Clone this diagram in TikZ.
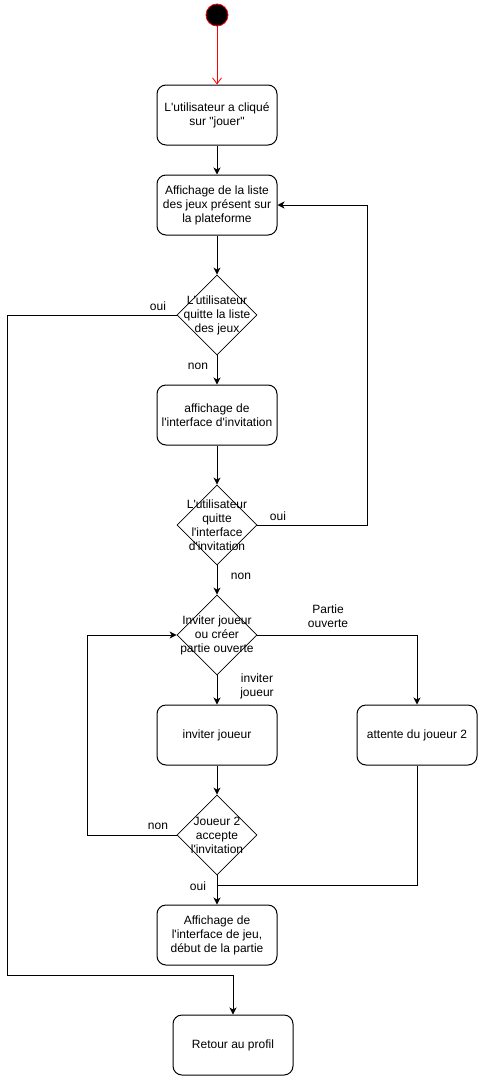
\documentclass[tikz,border=0pt]{standalone}
\usepackage{fontspec}
\setmainfont{Liberation Sans}[Ligatures=TeXOff]
\usetikzlibrary{arrows.meta,shapes.geometric}
\begin{document}
\begin{tikzpicture}[x=1pt,y=-1pt,
  every node/.style={font=\fontsize{12}{14}\selectfont},
  box/.style={draw,rounded corners=9pt,minimum width=120pt,minimum height=60pt,inner sep=0pt,align=center,line width=1pt},
  dia/.style={draw,diamond,minimum width=80pt,minimum height=80pt,inner sep=0pt,line width=0.8pt},
  txt/.style={align=center,inner sep=0pt},
  lbl/.style={align=center,inner sep=0pt},
  conn/.style={line width=1pt,-{Stealth[length=7pt,width=7pt,inset=2pt]}},
  plain/.style={line width=1pt}]
\useasboundingbox (0,0) rectangle (478,1076);
% start
\node[circle,fill=black,draw=red,line width=0.8pt,minimum size=22pt,inner sep=0pt] (s) at (217,15) {};
\node[box] (b1) at (217,115) {L'utilisateur a cliqué\\sur "jouer"};
\node[box] (b2) at (217,205) {Affichage de la liste\\des jeux présent sur\\la plateforme};
\node[dia] (d1) at (217,315) {};
\node[txt] (t1) at (217,315) {L'utilisateur\\quitte la liste\\des jeux};
\node[box] (b3) at (217,415) {affichage de\\l'interface d'invitation};
\node[dia] (d2) at (217,525) {};
\node[txt] (t2) at (217,525) {L'utilisateur\\quitte\\l'interface\\d'invitation};
\node[dia] (d3) at (217,635) {};
\node[txt] (t3) at (217,635) {Inviter joueur\\ou créer\\partie ouverte};
\node[box] (b4) at (217,735) {inviter joueur};
\node[box] (b5) at (417,735) {attente du joueur 2};
\node[dia] (d4) at (217,835) {};
\node[txt] (t4) at (217,835) {Joueur 2\\accepte\\l'invitation};
\node[box] (b6) at (217,935) {Affichage de\\l'interface de jeu,\\début de la partie};
\node[box] (b7) at (233,1045) {Retour au profil};
% coordinates
\coordinate (c1a) at (7,315);
\coordinate (c1b) at (7,975);
\coordinate (c1c) at (233,975);
\coordinate (c2a) at (367,525);
\coordinate (c2b) at (367,205);
\coordinate (c3a) at (417,635);
\coordinate (c4a) at (87,835);
\coordinate (c4b) at (87,635);
\coordinate (c5a) at (417,885);
\coordinate (c5b) at (217,885);
% connectors
\draw[red,line width=0.8pt,-{Straight Barb[length=6pt,width=9pt]}] (s.south) -- (b1.north);
\draw[conn] (b1) -- (b2);
\draw[conn] (b2) -- (d1);
\draw[conn] (d1) -- (b3);
\draw[conn] (b3) -- (d2);
\draw[conn] (d2) -- (d3);
\draw[conn] (d3) -- (b4);
\draw[conn] (b4) -- (d4);
\draw[conn] (d4) -- (b6);
\draw[conn] (d1.west) -- (c1a) -- (c1b) -- (c1c) -- (b7.north);
\draw[conn] (d2.east) -- (c2a) -- (c2b) -- (b2.east);
\draw[conn] (d3.east) -- (c3a) -- (b5.north);
\draw[conn] (d4.west) -- (c4a) -- (c4b) -- (d3.west);
\draw[plain] (b5.south) -- (c5a) -- (c5b);
% labels
\node[lbl] (l1) at (158,306) {oui};
\node[lbl] (l2) at (198,366) {non};
\node[lbl] (l3) at (278,516) {oui};
\node[lbl] (l4) at (241,576) {non};
\node[lbl] (l5) at (328,616) {Partie\\ouverte};
\node[lbl] (l6) at (257,686) {inviter\\joueur};
\node[lbl] (l7) at (158,826) {non};
\node[lbl] (l8) at (198,886) {oui};
\end{tikzpicture}
\end{document}
